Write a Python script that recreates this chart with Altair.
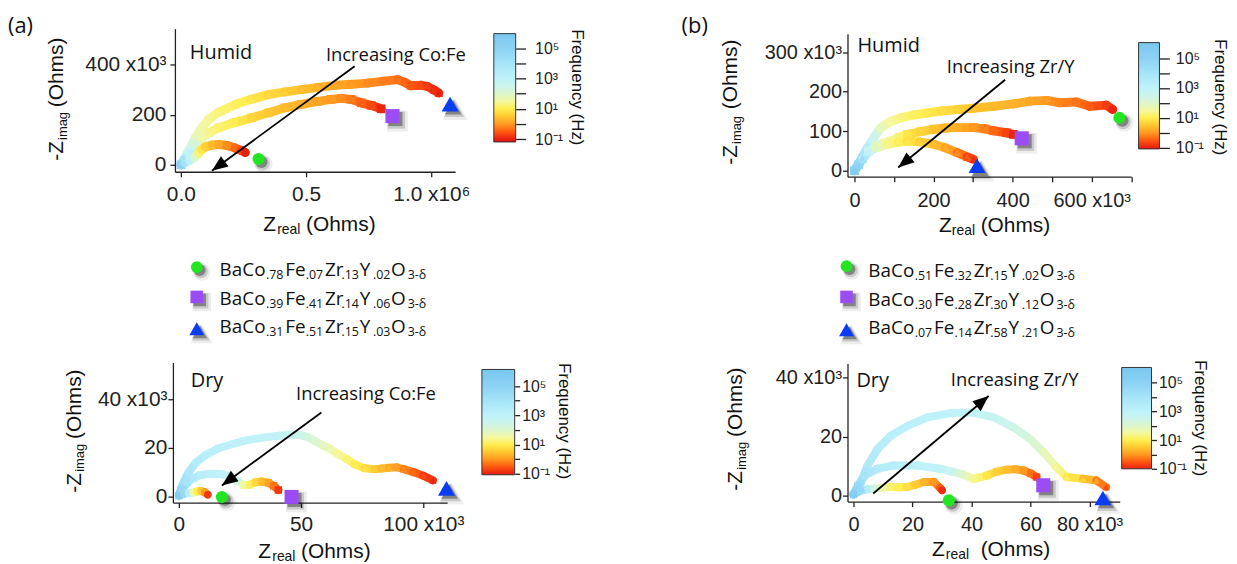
import math
import altair as alt
import pandas as pd

W, H = 1237, 564

# ================= values =================
# Z_real and -Z_imag in kOhm, F = log10(frequency / Hz)

# (a) Humid
AH_C_X = [0, 15, 35, 55, 70, 82, 98, 125, 151, 185, 217, 240, 257]
AH_C_Y = [0, 8, 18, 30, 45, 60, 72, 79, 81, 77, 67, 58, 49]
AH_C_F = [5.0, 4.0, 3.0, 2.0, 1.3, 0.9, 0.6, 0.35, 0.15, -0.1, -0.4, -0.7, -1.0]
AH_S_X = [0, 15, 35, 58, 85, 115, 151, 210, 283, 350, 415, 480, 548, 600, 640, 680, 720, 760, 800]
AH_S_Y = [0, 18, 45, 80, 109, 130, 148, 168, 188, 208, 228, 242, 254, 262, 266, 262, 248, 238, 224]
AH_S_F = [5.0, 4.0, 3.0, 2.2, 1.6, 1.35, 1.2, 1.0, 0.7, 0.5, 0.35, 0.25, 0.1, 0.0, -0.1, -0.25, -0.45, -0.65, -0.95]
AH_T_X = [0, 12, 30, 58, 85, 111, 150, 217, 280, 349, 415, 481, 548, 614, 680, 746, 810, 865, 895, 918, 960, 984, 1010, 1030]
AH_T_Y = [0, 20, 55, 109, 150, 182, 210, 241, 262, 281, 292, 301, 310, 318, 322, 327, 335, 341, 330, 316, 318, 314, 300, 287]
AH_T_F = [5.0, 3.6, 2.6, 1.9, 1.6, 1.45, 1.3, 1.1, 0.95, 0.75, 0.6, 0.4, 0.3, 0.15, 0.05, -0.1, -0.2, -0.3, -0.4, -0.5, -0.65, -0.75, -0.88, -1.0]

# (a) Dry
AD_C_X = [0, 2, 4, 6, 7.5, 9, 10.5, 11.8]
AD_C_Y = [0.3, 1.0, 1.4, 1.6, 2.0, 2.2, 1.7, 0.7]
AD_C_F = [5.5, 4.5, 3.2, 1.6, 1.0, 0.5, 0.0, -0.8]
AD_S_X = [0, 1.5, 3.5, 6, 9, 13, 17, 21, 24, 26.5, 29, 31.5, 34, 36.6, 38.8, 40.7]
AD_S_Y = [0.3, 3, 5.8, 7.6, 8.8, 9.3, 9.2, 8.3, 6.3, 4.6, 4.8, 5.8, 6.1, 5.6, 4.3, 2.6]
AD_S_F = [5.5, 4.6, 4.0, 3.6, 3.3, 3.1, 3.0, 2.8, 2.4, 1.6, 1.1, 0.7, 0.4, 0.1, -0.3, -0.8]
AD_T_X = [0, 1.5, 4, 7, 11, 16, 22, 28, 35, 41, 46, 50, 53, 56, 59, 62, 65, 69, 72, 76, 80, 83, 86, 89, 92, 96, 100, 104]
AD_T_Y = [0.5, 5, 10, 14, 17, 19.7, 21.6, 23.2, 24.3, 25, 25.4, 25.2, 24.3, 22.6, 21, 19.5, 17.5, 15.2, 13.2, 11.6, 11.2, 11.5, 11.8, 12, 11.2, 10, 8.5, 6.6]
AD_T_F = [5.5, 4.4, 3.8, 3.5, 3.3, 3.2, 3.1, 3.0, 2.95, 2.85, 2.7, 2.5, 2.3, 2.1, 1.9, 1.7, 1.5, 1.25, 1.05, 0.85, 0.6, 0.4, 0.25, 0.1, -0.1, -0.35, -0.65, -0.95]

# (b) Humid
BH_C_X = [0, 10, 20, 33, 50, 67, 90, 117, 150, 184, 220, 260, 301, 352, 402, 444, 486, 519, 561, 595, 637, 653]
BH_C_Y = [0, 15, 35, 58, 85, 109, 124, 134, 141, 146, 151, 155, 158, 163, 169, 176, 178, 172, 174, 163, 166, 155]
BH_C_F = [5.5, 5.0, 4.3, 3.5, 2.5, 1.8, 1.5, 1.3, 1.1, 0.95, 0.8, 0.65, 0.45, 0.35, 0.25, 0.15, 0.0, -0.15, -0.3, -0.5, -0.75, -0.95]
BH_S_X = [0, 10, 20, 35, 55, 75, 92, 113, 134, 167, 201, 230, 260, 301, 330, 352, 385, 402]
BH_S_Y = [0, 15, 30, 50, 62, 70, 75, 85, 92, 99, 105, 108, 109, 109, 106, 101, 96, 92]
BH_S_F = [5.5, 5.0, 4.3, 3.0, 2.0, 1.6, 1.4, 1.2, 0.9, 0.65, 0.45, 0.3, 0.2, 0.0, -0.2, -0.4, -0.7, -0.95]
BH_T_X = [0, 10, 20, 35, 55, 84, 110, 134, 165, 201, 230, 260, 285, 301]
BH_T_Y = [0, 15, 30, 48, 58, 67, 72, 75, 73, 67, 58, 46, 35, 29]
BH_T_F = [5.5, 5.0, 4.3, 3.0, 2.0, 1.4, 1.1, 0.9, 0.7, 0.4, 0.2, -0.1, -0.5, -0.9]

# (b) Dry
BD_C_X = [0, 2.5, 5, 7, 10, 12.7, 15.5, 18.3, 21, 23.9, 27.3, 29.5, 30]
BD_C_Y = [0.5, 1.8, 2.3, 2.5, 2.8, 3.0, 2.9, 3.0, 3.8, 4.7, 4.7, 2.5, 1.9]
BD_C_F = [5.5, 4.6, 3.4, 2.3, 1.6, 1.2, 1.0, 0.8, 0.55, 0.3, 0.0, -0.5, -0.9]
BD_S_X = [0, 1.5, 3.7, 8.2, 13.8, 21.6, 29.5, 33, 36.3, 40.7, 45.2, 48.5, 52, 55, 57.6, 60, 62]
BD_S_Y = [0.5, 3.5, 6.9, 9.2, 10.3, 10.3, 9.2, 8.3, 7.5, 5.8, 6.9, 8.2, 8.9, 9.0, 8.6, 7.6, 6.4]
BD_S_F = [5.5, 4.6, 4.0, 3.5, 3.3, 3.1, 2.9, 2.6, 2.1, 1.4, 0.9, 0.6, 0.4, 0.2, 0.0, -0.3, -0.7]
BD_T_X = [0, 1.2, 2.6, 4.8, 8.2, 12.7, 18.3, 25, 32.9, 40.7, 47.5, 54.2, 59.8, 64.3, 68.8, 72.2, 77.8, 82.3, 85.6]
BD_T_Y = [0.5, 2.5, 4.7, 10.3, 15.9, 20.4, 23.7, 26.6, 28, 28.2, 26.6, 23.2, 19.3, 14.8, 9.7, 6.4, 5.8, 5.2, 3]
BD_T_F = [5.5, 4.8, 4.2, 3.7, 3.4, 3.25, 3.15, 3.05, 3.0, 2.9, 2.7, 2.5, 2.2, 1.9, 1.5, 1.1, 0.6, 0.1, -0.6]

# lowest-frequency end markers (circle, square, triangle), kOhm
AH_END = [(310, 23), (845, 195), (1075, 243)]
AD_END = [(17.6, -0.3), (46.1, -0.25), (109.5, 3.3)]
BH_END = [(670, 134), (423, 82), (310, 12.6)]
BD_END = [(32.3, -1.5), (64.3, 3.6), (84.5, -0.7)]

# "Increasing ..." arrows (start, tip), kOhm
AH_ARROW = [(694, 394), (124, -24)]
AD_ARROW = [(58.3, 34.6), (17.6, 4.5)]
BH_ARROW = [(381, 230), (110.6, 8.3)]
BD_ARROW = [(6.7, 0.8), (45.8, 33.8)]

# compositions  (Co, Fe, Zr, Y)
A_COMP = [[".78", ".07", ".13", ".02"], [".39", ".41", ".14", ".06"], [".31", ".51", ".15", ".03"]]
B_COMP = [[".51", ".32", ".15", ".02"], [".30", ".28", ".30", ".12"], [".07", ".14", ".58", ".21"]]

FREQ_TICKS = [-1, 0, 1, 2, 3, 4, 5]

# ================= styles / layout =================
LF_STOPS = [-1.2, -1.0, -0.5, 0.0, 0.5, 1.0, 1.5, 2.0, 2.5, 3.0, 4.0, 5.0, 6.2]
COLORS = ['#d81010', '#e82010', '#ff5a10', '#ff9a20', '#ffc830', '#ffee50', '#f4f8a0',
          '#dcf6cc', '#cbf4ec', '#bff2fa', '#a6e4f8', '#8cd2f4', '#78c6f0']
CSCALE = alt.Scale(domain=LF_STOPS, range=COLORS, interpolate='rgb')
SHAPES = ['circle', 'square', 'triangle-up']
END_COLORS = ['#22e622', '#9b4cf5', '#0a3cf5']
END_SIZES = [150, 200, 290]
TXT = '#111111'
AXFONT = 'Liberation Sans'
NOTEFONT = 'Open Sans'

PANELS = {
    'AH': dict(xdom=[-23.8, 1095], xpx=[176, 458], ydom=[-27.8, 544.7], ypx=[171, 27],
               xvals=[0, 500, 1000], xlab="datum.value==1000?'1.0 x10⁶':format(datum.value/1000,'.1f')",
               yvals=[0, 200, 400], ylab="datum.value==400?'400 x10³':datum.label",
               fs=21, xpad=7, ypad=4, ps=75, rw=9),
    'AD': dict(xdom=[-2.44, 109.76], xpx=[174, 450], ydom=[-2.58, 55.2], ypx=[504, 363],
               xvals=[0, 50, 100], xlab="datum.value==100?'100 x10³':datum.label",
               yvals=[0, 20, 40], ylab="datum.value==40?'40 x10³':datum.label",
               fs=21, xpad=6, ypad=1, ps=55, rw=8),
    'BH': dict(xdom=[-17.6, 700], xpx=[853, 1138.6], ydom=[-15.1, 346.7], ypx=[176, 32],
               xvals=[0, 100, 200, 300, 400, 500, 600, 700],
               xlab="datum.value==600?'600 x10³':(datum.value%200==0 && datum.value<600 ? datum.label : '')",
               yvals=[0, 100, 200, 300], ylab="datum.value==300?'300 x10³':datum.label",
               fs=20, xpad=9, ypad=1, ps=75, rw=9),
    'BD': dict(xdom=[-2.02, 90.2], xpx=[853, 1127], ydom=[-1.92, 44.8], ypx=[503, 364],
               xvals=[0, 20, 40, 60, 80], xlab="datum.value==80?'80 x10³':datum.label",
               yvals=[0, 20, 40], ylab="datum.value==40?'40 x10³':datum.label",
               fs=20, xpad=8, ypad=1, ps=55, rw=8),
}

AX = dict(grid=False, title=None, domainColor='#222', tickColor='#222', labelColor='#222',
          domainWidth=1.3, tickWidth=1.3, tickSize=5, labelFont=AXFONT,
          labelFlush=False, labelOverlap=False, labelBound=False)

ARROW_PATH = "M0,0L0.73,1.8L-0.73,1.8Z"


def lin(v, dom, rng):
    return rng[0] + (v - dom[0]) / (dom[1] - dom[0]) * (rng[1] - rng[0])


def color_c(c):
    return alt.Color(c, type='quantitative', scale=CSCALE, legend=None)


def shadows(df, xe, ye, shape, size):
    out = []
    for d, k, op in [(5, 2.2, 0.07), (4, 1.5, 0.15), (3, 1.0, 0.35)]:
        out.append(alt.Chart(df).mark_point(shape=shape, filled=True, size=size * k, color='#000000',
                                            opacity=op, xOffset=d, yOffset=d, strokeWidth=0)
                   .encode(x=xe, y=ye))
    return out


def panel(key, curves, ends, arrow):
    P = PANELS[key]
    xs = alt.Scale(domain=P['xdom'], range=P['xpx'], nice=False, zero=False)
    ys = alt.Scale(domain=P['ydom'], range=P['ypx'], nice=False, zero=False)
    xa = alt.Axis(orient='bottom', offset=P['ypx'][0] - H, values=P['xvals'], labelExpr=P['xlab'],
                  labelFontSize=P['fs'], labelPadding=P['xpad'], **AX)
    ya = alt.Axis(orient='left', offset=-P['xpx'][0], values=P['yvals'], labelExpr=P['ylab'],
                  labelFontSize=P['fs'], labelPadding=P['ypad'], **AX)

    def X(f):
        return alt.X(f, type='quantitative', scale=xs, axis=xa)

    def Y(f):
        return alt.Y(f, type='quantitative', scale=ys, axis=ya)

    layers = []
    for shape, xv, yv, fv in curves:
        seg = pd.DataFrame({'x': xv[:-1], 'y': yv[:-1], 'x2': xv[1:], 'y2': yv[1:],
                            'f': [(a + b) / 2 for a, b in zip(fv[:-1], fv[1:])]})
        pts = pd.DataFrame({'x': xv, 'y': yv, 'f': fv})
        layers.append(alt.Chart(seg).mark_rule(strokeWidth=P['rw'], strokeCap='round')
                      .encode(x=X('x'), y=Y('y'), x2='x2:Q', y2='y2:Q', color=color_c('f')))
        layers.append(alt.Chart(pts).mark_point(shape=shape, filled=True, size=P['ps'], opacity=1, strokeWidth=0)
                      .encode(x=X('x'), y=Y('y'), color=color_c('f')))
    for i, (ex, ey) in enumerate(ends):
        df = pd.DataFrame({'x': [ex], 'y': [ey]})
        layers += shadows(df, X('x'), Y('y'), SHAPES[i], END_SIZES[i])
        layers.append(alt.Chart(df).mark_point(shape=SHAPES[i], filled=True, size=END_SIZES[i],
                                               color=END_COLORS[i], opacity=1, strokeWidth=0)
                      .encode(x=X('x'), y=Y('y')))
    (sx, sy), (tx, ty) = arrow
    psx, psy = lin(sx, P['xdom'], P['xpx']), lin(sy, P['ydom'], P['ypx'])
    ptx, pty = lin(tx, P['xdom'], P['xpx']), lin(ty, P['ydom'], P['ypx'])
    ang = math.degrees(math.atan2(ptx - psx, -(pty - psy))) % 360
    adf = pd.DataFrame({'x': [sx], 'y': [sy], 'x2': [tx], 'y2': [ty]})
    layers.append(alt.Chart(adf).mark_rule(strokeWidth=1.8, color='#000000')
                  .encode(x=X('x'), y=Y('y'), x2='x2:Q', y2='y2:Q'))
    hdf = pd.DataFrame({'x': [tx], 'y': [ty]})
    layers.append(alt.Chart(hdf).mark_point(shape=ARROW_PATH, filled=True, size=316, angle=ang,
                                            color='#000000', opacity=1, strokeWidth=0)
                  .encode(x=X('x'), y=Y('y')))
    return alt.layer(*layers)


def hexrgb(h):
    return tuple(int(h[i:i + 2], 16) for i in (1, 3, 5))


def interp(v):
    if v <= LF_STOPS[0]:
        return COLORS[0]
    for i in range(len(LF_STOPS) - 1):
        a, b = LF_STOPS[i], LF_STOPS[i + 1]
        if a <= v <= b:
            t = (v - a) / (b - a)
            ca, cb = hexrgb(COLORS[i]), hexrgb(COLORS[i + 1])
            return '#%02x%02x%02x' % tuple(round(ca[k] + (cb[k] - ca[k]) * t) for k in range(3))
    return COLORS[-1]


def gradient(lo, hi):
    stops = [alt.GradientStop(offset=0, color=interp(lo))]
    for v, c in zip(LF_STOPS, COLORS):
        if lo < v < hi:
            stops.append(alt.GradientStop(offset=(v - lo) / (hi - lo), color=c))
    stops.append(alt.GradientStop(offset=1, color=interp(hi)))
    return alt.LinearGradient(gradient='linear', stops=stops, x1=0, x2=0, y1=1, y2=0)


CB_LABEL = ("datum.value===5?'10⁵':datum.value===3?'10³':datum.value===1?'10¹':"
            "datum.value===-1?'10⁻¹':''")

CBARS = [
    dict(x0=497, x1=519, ytop=32, ybot=141, lo=-1.18, hi=5.95, tick=10, pad=9),
    dict(x0=485, x1=518, ytop=370, ybot=476, lo=-1.07, hi=6.14, tick=5, pad=2),
    dict(x0=1146, x1=1167, ytop=41, ybot=148, lo=-1.09, hi=6.05, tick=10, pad=6),
    dict(x0=1129, x1=1159, ytop=368, ybot=470, lo=-1.0, hi=6.06, tick=5, pad=2),
]


def colorbar(cb):
    df = pd.DataFrame({'a': [0], 'b': [1], 'lo': [cb['lo']], 'hi': [cb['hi']]})
    ys = alt.Scale(domain=[cb['lo'], cb['hi']], range=[cb['ybot'], cb['ytop']], nice=False, zero=False)
    ax = alt.Axis(orient='right', offset=cb['x1'] - W, values=FREQ_TICKS, labelExpr=CB_LABEL,
                  tickSize=cb['tick'], labelPadding=cb['pad'], labelFontSize=16, domain=False, grid=False,
                  title=None, tickColor='#222', labelColor='#222', tickWidth=1.3, labelFont=AXFONT,
                  labelFlush=False, labelOverlap=False, labelBound=False)
    return alt.Chart(df).mark_rect(fill=gradient(cb['lo'], cb['hi']), stroke='#333333', strokeWidth=1).encode(
        x=alt.X('a:Q', scale=alt.Scale(domain=[0, 1], range=[cb['x0'], cb['x1']], nice=False, zero=False), axis=None),
        x2='b:Q',
        y=alt.Y('lo:Q', scale=ys, axis=ax),
        y2='hi:Q')


# ---------------- pixel-space annotation layer ----------------
XP = alt.X('px:Q', scale=alt.Scale(domain=[0, W], range=[0, W], nice=False, zero=False), axis=None)
YP = alt.Y('py:Q', scale=alt.Scale(domain=[0, H], range=[0, H], nice=False, zero=False), axis=None)


def text_layer(items, font, angle=0, align='left', baseline='alphabetic'):
    df = pd.DataFrame(items, columns=['t', 'px', 'py', 's'])
    return alt.Chart(df).mark_text(font=font, angle=angle, align=align, baseline=baseline, color=TXT).encode(
        x=XP, y=YP, text='t:N', size=alt.Size('s:Q', scale=None))


NOTES = [("(a)", 8, 31, 22), ("(b)", 686, 31, 22),
         ("Humid", 191, 58, 20), ("Humid", 863, 50, 20),
         ("Dry", 192, 388, 20), ("Dry", 862, 388, 20),
         ("Increasing Co:Fe", 328, 60, 18.5), ("Increasing Co:Fe", 298, 401, 18.5),
         ("Increasing Zr/Y", 953, 72, 18.5), ("Increasing Zr/Y", 957, 387, 18.5)]

# x-axis titles:  Z x, "real" x, "(Ohms)" x, baseline
XTITLES = [(265, 279, 308, 231), (260, 274, 303, 560), (945, 958, 987, 232), (938, 952, 987, 558)]
# y-axis titles:  baseline x, "-Z" start y, "(Ohms)" start y
YTITLES = [(63, 160, 106), (81, 494, 440), (742, 164, 108), (747, 492, 438)]
DASH_Z_LEN = 20
# colorbar titles: baseline x, centre y
CBTITLES = [(576, 86), (563, 422), (1223, 96), (1203, 419)]

# legend layout
LEG_SEG_DX = [0, 46.6, 66, 86.6, 106, 122.6, 141, 154.3, 172.6, 189.3]
LEGENDS = [dict(mx=198, my=[267, 297, 329], tx=221, ty=[276, 305, 333], comp=A_COMP),
           dict(mx=852, my=[266, 297, 330], tx=874, ty=[277, 306.5, 334], comp=B_COMP)]
LEG_SIZES = [140, 160, 225]

main_items, sub_items = [], []
for lg in LEGENDS:
    for r, comp in enumerate(lg['comp']):
        parts = ["BaCo", comp[0], "Fe", comp[1], "Zr", comp[2], "Y", comp[3], "O", "3-δ"]
        for j, (txt, dx) in enumerate(zip(parts, LEG_SEG_DX)):
            if j % 2 == 0:
                main_items.append((txt, lg['tx'] + dx, lg['ty'][r], 19))
            else:
                sub_items.append((txt, lg['tx'] + dx, lg['ty'][r] + 3, 12.5))

ax_items = []
for zx, rx, ox, b in XTITLES:
    ax_items += [("Z", zx, b, 21), ("(Ohms)", ox, b, 21), ("real", rx, b + 3, 14)]
y_items = []
for bx, y0, y2 in YTITLES:
    y_items += [("-Z", bx, y0, 21), ("imag", bx + 4, y0 - DASH_Z_LEN - 1, 13), ("(Ohms)", bx, y2, 21)]
cb_items = [("Frequency (Hz)", x, y, 17) for x, y in CBTITLES]

pix_layers = [
    text_layer(NOTES, NOTEFONT),
    text_layer(main_items + sub_items, NOTEFONT),
    text_layer(ax_items, AXFONT),
    text_layer(y_items, AXFONT, angle=270),
    text_layer(cb_items, AXFONT, angle=90, align='center'),
]
for lg in LEGENDS:
    for r in range(3):
        df = pd.DataFrame({'px': [lg['mx']], 'py': [lg['my'][r]]})
        pix_layers += shadows(df, XP, YP, SHAPES[r], LEG_SIZES[r])
        pix_layers.append(alt.Chart(df).mark_point(shape=SHAPES[r], filled=True, size=LEG_SIZES[r],
                                                   color=END_COLORS[r], opacity=1, strokeWidth=0)
                          .encode(x=XP, y=YP))

# ---------------- assemble ----------------
pA_h = panel('AH', [(SHAPES[2], AH_T_X, AH_T_Y, AH_T_F), (SHAPES[1], AH_S_X, AH_S_Y, AH_S_F),
                    (SHAPES[0], AH_C_X, AH_C_Y, AH_C_F)], AH_END, AH_ARROW)
pA_d = panel('AD', [(SHAPES[2], AD_T_X, AD_T_Y, AD_T_F), (SHAPES[1], AD_S_X, AD_S_Y, AD_S_F),
                    (SHAPES[0], AD_C_X, AD_C_Y, AD_C_F)], AD_END, AD_ARROW)
pB_h = panel('BH', [(SHAPES[0], BH_C_X, BH_C_Y, BH_C_F), (SHAPES[1], BH_S_X, BH_S_Y, BH_S_F),
                    (SHAPES[2], BH_T_X, BH_T_Y, BH_T_F)], BH_END, BH_ARROW)
pB_d = panel('BD', [(SHAPES[2], BD_T_X, BD_T_Y, BD_T_F), (SHAPES[1], BD_S_X, BD_S_Y, BD_S_F),
                    (SHAPES[0], BD_C_X, BD_C_Y, BD_C_F)], BD_END, BD_ARROW)

chart = alt.layer(
    pA_h, pA_d, pB_h, pB_d,
    *[colorbar(cb) for cb in CBARS],
    alt.layer(*pix_layers),
).resolve_scale(x='independent', y='independent').properties(
    width=W, height=H,
    autosize=alt.AutoSizeParams(type='none'),
    padding={'left': -8, 'top': -8, 'right': 0, 'bottom': 0},
).configure_view(stroke=None)

chart.save("out.html", embed_options={"renderer": "svg", "actions": False})
